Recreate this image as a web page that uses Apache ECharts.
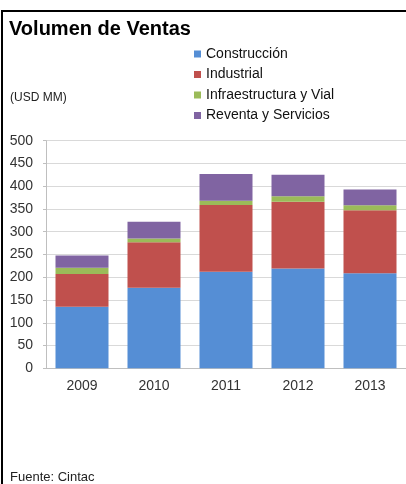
<!DOCTYPE html>
<html>
<head>
<meta charset="utf-8">
<script src="https://cdn.jsdelivr.net/npm/echarts@6/dist/echarts.min.js"></script>
<style>
  html, body { margin: 0; padding: 0; background: #fff; }
  #chart { width: 406px; height: 484px; }
</style>
</head>
<body>
<div id="chart"></div>
<script>
const years = ['2009', '2010', '2011', '2012', '2013']
const construccion = [135, 177, 212, 219, 209]
const industrial = [72, 100, 147, 147, 138]
const infraestructura = [14, 8, 9, 12, 11]
const reventa = [27, 37, 59, 47, 35]
const yTicks = { min: 0, max: 500, interval: 50 }

const colors = ['#558ED5', '#C0504D', '#9BBB59', '#8064A2']
const font = '"Liberation Sans", Arial, sans-serif'

let myChart = echarts.init(document.getElementById('chart'))

function stack (name, data) {
  return {
    name: name,
    type: 'bar',
    stack: 'total',
    barWidth: 53,
    data: data
  }
}

let option = {
  animation: false,
  color: colors,
  textStyle: { fontFamily: font },
  title: {
    text: 'Volumen de Ventas',
    left: 9,
    top: 19,
    padding: 0,
    textStyle: { fontFamily: font, fontSize: 20, fontWeight: 'bold', color: '#000' }
  },
  legend: {
    orient: 'vertical',
    left: 194,
    top: 47,
    padding: 0,
    itemWidth: 7,
    itemHeight: 7,
    itemGap: 6.5,
    icon: 'rect',
    textStyle: { fontFamily: font, fontSize: 14, color: '#111', padding: [0, 0, 0, 0] },
    data: ['Construcción', 'Industrial', 'Infraestructura y Vial', 'Reventa y Servicios']
  },
  grid: {
    left: 46,
    right: -3,
    top: 140.7,
    bottom: 115.7
  },
  xAxis: {
    type: 'category',
    data: years,
    axisLine: { lineStyle: { color: '#BFBFBF' } },
    axisTick: { show: false },
    axisLabel: { fontFamily: font, fontSize: 14, color: '#333', margin: 11 }
  },
  yAxis: {
    type: 'value',
    min: yTicks.min,
    max: yTicks.max,
    interval: yTicks.interval,
    axisLine: { show: true, lineStyle: { color: '#BFBFBF' } },
    axisTick: { show: true, length: 3, lineStyle: { color: '#BFBFBF' } },
    splitLine: { lineStyle: { color: '#D9D9D9' } },
    axisLabel: { fontFamily: font, fontSize: 14, color: '#333', margin: 13 }
  },
  graphic: [
    {
      type: 'rect',
      shape: { x: 2, y: 11, width: 420, height: 500 },
      style: { fill: 'none', stroke: '#000', lineWidth: 2 },
      silent: true
    },
    {
      type: 'text',
      left: 10,
      top: 92,
      style: { text: '(USD MM)', fontFamily: font, fontSize: 12, fill: '#222' }
    },
    {
      type: 'text',
      left: 10,
      top: 471,
      style: { text: 'Fuente: Cintac', fontFamily: font, fontSize: 13, fill: '#222' }
    }
  ],
  series: [
    stack('Construcción', construccion),
    stack('Industrial', industrial),
    stack('Infraestructura y Vial', infraestructura),
    stack('Reventa y Servicios', reventa)
  ]
}

option && myChart.setOption(option)
</script>
</body>
</html>
